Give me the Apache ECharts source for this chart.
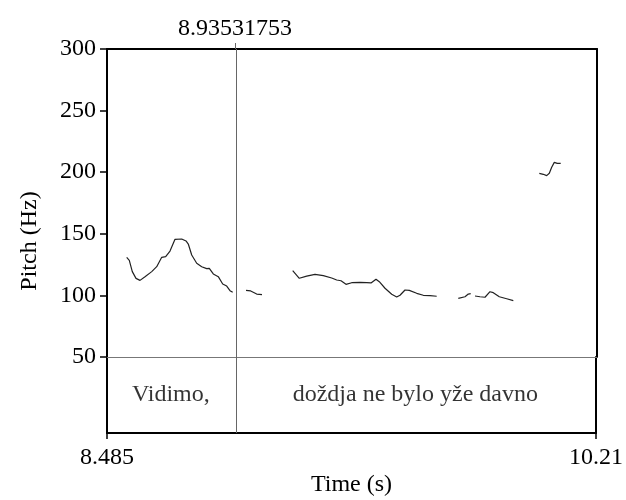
<!DOCTYPE html>
<html>
<head>
<meta charset="utf-8">
<script src="https://cdn.jsdelivr.net/npm/echarts@6/dist/echarts.min.js"></script>
<style>html,body{margin:0;padding:0;background:#fff}#c{width:626px;height:500px}</style>
</head>
<body>
<div id="c"></div>
<script>
const timeMin = 8.485, timeMax = 10.21;
const boundary = 8.93531753;
const pitchTicks = [50, 100, 150, 200, 250, 300];
const tierWords = ['Vidimo,', 'doždja ne bylo yže davno'];

const seg1T = [8.5543,8.5635,8.5741,8.5871,8.6012,8.6188,8.6424,8.6600,8.6776,8.6916,8.7068,8.7244,8.7480,8.7631,8.7712,8.7832,8.8008,8.8184,8.8360,8.8451,8.8592,8.8768,8.8923,8.9064,8.9180,8.9275];
const seg1F = [130.9,128.5,119.3,113.8,112.2,115.2,119.3,123.3,130.9,131.4,136.0,145.5,145.8,144.2,141.7,132.8,126.1,123.3,121.7,122.0,117.4,115.2,109.3,107.6,103.8,102.5];
const seg2T = [8.9743,8.9909,9.0120,9.0307];
const seg2F = [104.1,103.6,101.1,100.6];
const seg3T = [9.1387,9.1620,9.1880,9.2172,9.2465,9.2760,9.2936,9.3088,9.3264,9.3464,9.3757,9.3992,9.4144,9.4320,9.4436,9.4637,9.4873,9.5049,9.5165,9.5341,9.5492,9.5753,9.5985,9.6221,9.6457];
const seg3F = [120.1,113.9,115.7,117.1,116.0,114.1,112.5,111.9,109.0,110.3,110.6,110.3,110.1,113.1,111.1,105.8,100.9,98.7,100.1,104.4,104.1,101.7,100.1,99.8,99.3];
const seg4T = [9.7217,9.7453,9.7569,9.7654];
const seg4F = [97.6,98.9,101.1,101.4];
const seg5T = [9.7805,9.7981,9.8157,9.8333,9.8449,9.8661,9.8921,9.9154];
const seg5F = [99.5,98.9,98.5,103.0,102.2,98.9,97.3,95.7];
const seg6T = [10.0069,10.0209,10.0329,10.0421,10.0505,10.0597,10.0702,10.0822];
const seg6F = [199.1,198.3,197.2,199.1,204.0,208.0,207.2,207.2];

const segments = [[seg1T,seg1F],[seg2T,seg2F],[seg3T,seg3F],[seg4T,seg4F],[seg5T,seg5F],[seg6T,seg6F]];
const FONT = 'Liberation Serif';
const FS = 24;

const lineSeries = segments.map(([t,f]) => ({
  type: 'line', xAxisIndex: 0, yAxisIndex: 0,
  data: t.map((x,i)=>[x,f[i]]),
  showSymbol: false, symbol: 'none', smooth: false,
  lineStyle: {color: '#222', width: 1.2},
  silent: true, animation: false
}));
lineSeries[0].markLine = {
  silent: true, symbol: 'none', animation: false,
  label: {show: false},
  lineStyle: {color: '#666', width: 1, type: 'solid'},
  data: [{xAxis: boundary}]
};

const tierData = [
  [(timeMin+boundary)/2, 0.5, tierWords[0]],
  [(boundary+timeMax)/2, 0.5, tierWords[1]]
];

const chart = echarts.init(document.getElementById('c'), null, {renderer: 'canvas'});
chart.setOption({
  animation: false,
  backgroundColor: '#fff',
  grid: [
    {left: 107, top: 49, width: 490, height: 308},
    {left: 107, top: 357, width: 490, height: 76}
  ],
  xAxis: [
    {gridIndex: 0, type: 'value', position: 'top', min: timeMin, max: timeMax,
     axisLine: {show: true, lineStyle: {color: '#000', width: 2}},
     axisTick: {show: true, customValues: [boundary], length: 6, lineStyle: {color: '#666', width: 1}},
     axisLabel: {show: true, customValues: [boundary], formatter: v => String(v), color: '#000', fontFamily: FONT, fontSize: FS, margin: 8},
     splitLine: {show: false}},
    {gridIndex: 0, type: 'value', position: 'bottom', min: timeMin, max: timeMax,
     axisLine: {show: true, lineStyle: {color: '#777', width: 1}},
     axisTick: {show: false}, axisLabel: {show: false}, splitLine: {show: false}},
    {gridIndex: 1, type: 'value', position: 'bottom', min: timeMin, max: timeMax,
     name: 'Time (s)', nameLocation: 'middle', nameGap: 40,
     nameTextStyle: {color: '#000', fontFamily: FONT, fontSize: FS},
     axisLine: {show: true, lineStyle: {color: '#000', width: 2}},
     axisTick: {show: true, customValues: [timeMin, timeMax], length: 6, lineStyle: {color: '#000', width: 1.5}},
     axisLabel: {show: true, customValues: [timeMin, timeMax], formatter: v => String(v), color: '#000', fontFamily: FONT, fontSize: FS, margin: 13},
     splitLine: {show: false}}
  ],
  yAxis: [
    {gridIndex: 0, type: 'value', position: 'left', min: 50, max: 300, interval: 50,
     axisLine: {show: true, lineStyle: {color: '#000', width: 2}},
     axisTick: {show: true, length: 7, lineStyle: {color: '#000', width: 1.5}},
     axisLabel: {show: true, color: '#000', fontFamily: FONT, fontSize: FS, margin: 11},
     splitLine: {show: false}},
    {gridIndex: 0, type: 'value', position: 'right', min: 50, max: 300,
     axisLine: {show: true, lineStyle: {color: '#000', width: 2}},
     axisTick: {show: false}, axisLabel: {show: false}, splitLine: {show: false}},
    {gridIndex: 1, type: 'value', position: 'left', min: 0, max: 1,
     axisLine: {show: true, lineStyle: {color: '#000', width: 2}},
     axisTick: {show: false}, axisLabel: {show: false}, splitLine: {show: false}},
    {gridIndex: 1, type: 'value', position: 'right', min: 0, max: 1,
     axisLine: {show: true, lineStyle: {color: '#000', width: 2}},
     axisTick: {show: false}, axisLabel: {show: false}, splitLine: {show: false}}
  ],
  graphic: [
    {type: 'text', rotation: Math.PI/2, position: [30, 241], silent: true,
     style: {text: 'Pitch (Hz)', fill: '#000', font: FS + 'px "' + FONT + '"', textAlign: 'center', textVerticalAlign: 'middle'}}
  ],
  series: lineSeries.concat([
    {type: 'scatter', xAxisIndex: 2, yAxisIndex: 2, symbolSize: 0, silent: true,
     data: tierData,
     label: {show: true, position: 'inside', formatter: p => p.data[2], color: '#000', fontFamily: FONT, fontSize: FS},
     markLine: {silent: true, symbol: 'none', animation: false, label: {show: false},
       lineStyle: {color: '#666', width: 1, type: 'solid'}, data: [{xAxis: boundary}]}}
  ])
});
</script>
</body>
</html>
